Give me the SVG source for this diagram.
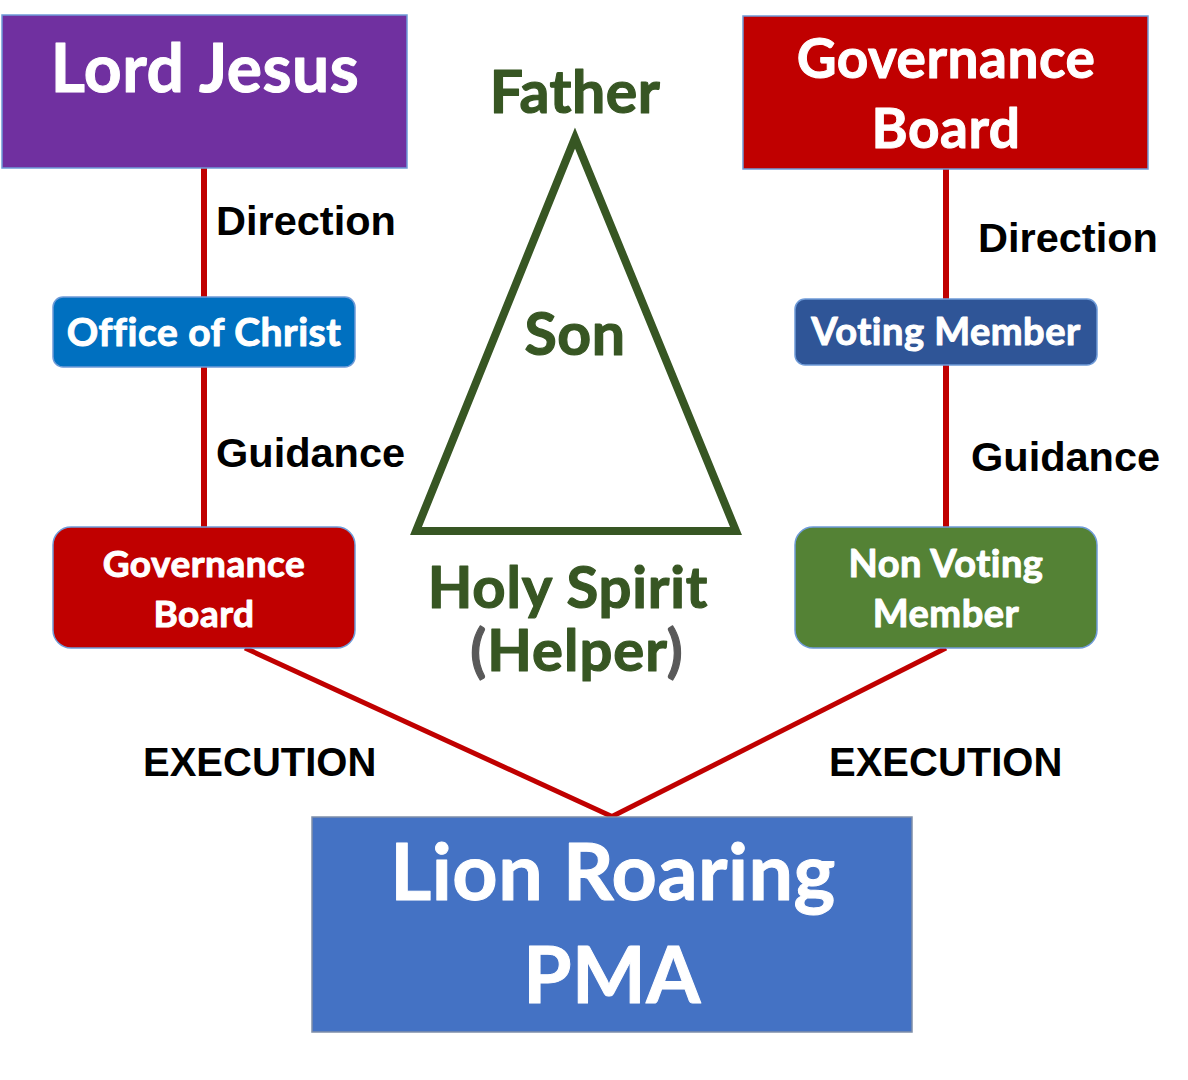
<svg xmlns="http://www.w3.org/2000/svg" width="1188" height="1080" viewBox="0 0 1188 1080">
<style>
.c{font-family:Lato,"Open Sans","Liberation Sans",sans-serif;font-weight:bold;text-anchor:middle;stroke-linejoin:round;font-variant-ligatures:none;font-feature-settings:"liga" 0}
.w{fill:#ffffff;stroke:#ffffff;stroke-width:1}
.g{fill:#375623;stroke:#375623;stroke-width:1.2}
.p{fill:#595959;stroke:#595959}
.lbl{font-family:"Liberation Sans",Arial,sans-serif;font-weight:bold;font-size:41.5px;fill:#000000}
.ex{font-size:40px}
.conn{stroke:#C00000;fill:none}
</style>
<rect width="1188" height="1080" fill="#ffffff"/>
<g id="connectors">
<line class="conn" x1="204" y1="168" x2="204" y2="528" stroke-width="6"/>
<line class="conn" x1="946" y1="169" x2="946" y2="528" stroke-width="6"/>
<line class="conn" x1="245" y1="648" x2="613" y2="817" stroke-width="5"/>
<line class="conn" x1="946" y1="648" x2="611" y2="817" stroke-width="5"/>
</g>
<g id="lord-jesus">
<rect x="2" y="15" width="405" height="153" fill="#7030A0" stroke="#6F9BD8" stroke-width="1.5"/>
<text class="c w" x="205" y="92" font-size="66" letter-spacing="0.5">Lord Jesus</text>
</g>
<g id="governance-board-top">
<rect x="743" y="16" width="405" height="153" fill="#C00000" stroke="#6F9BD8" stroke-width="1.5"/>
<text class="c w" x="946" y="78" font-size="55" letter-spacing="0.5">Governance</text>
<text class="c w" x="946" y="148" font-size="55" letter-spacing="0.5">Board</text>
</g>
<g id="office-of-christ">
<rect x="53" y="297" width="302" height="70" rx="10" fill="#0070C0" stroke="#6F9BD8" stroke-width="1.5"/>
<text class="c w" x="204" y="346" font-size="39" letter-spacing="0.5">Office of Christ</text>
</g>
<g id="governance-board-left">
<rect x="53" y="527" width="302" height="121" rx="18" fill="#C00000" stroke="#6F9BD8" stroke-width="1.5"/>
<text class="c w" x="204" y="577" font-size="37" letter-spacing="0.5">Governance</text>
<text class="c w" x="204" y="627" font-size="37" letter-spacing="0.5">Board</text>
</g>
<g id="voting-member">
<rect x="795" y="299" width="302" height="66" rx="10" fill="#2F5597" stroke="#6F9BD8" stroke-width="1.5"/>
<text class="c w" x="946" y="345" font-size="38" letter-spacing="0.5">Voting Member</text>
</g>
<g id="non-voting-member">
<rect x="795" y="527" width="302" height="121" rx="18" fill="#548235" stroke="#6F9BD8" stroke-width="1.5"/>
<text class="c w" x="946" y="577" font-size="38" letter-spacing="0.5">Non Voting</text>
<text class="c w" x="946" y="627" font-size="38" letter-spacing="0.5">Member</text>
</g>
<g id="trinity">
<polygon points="575,138 416,531 736,531" fill="#ffffff" stroke="#375623" stroke-width="8" stroke-linejoin="miter"/>
<text class="c g" x="575" y="113" font-size="59" letter-spacing="0.5">Father</text>
<text class="c g" x="575" y="355" font-size="59" letter-spacing="0.5">Son</text>
<text class="c g" x="568" y="608" font-size="58" letter-spacing="0.8">Holy Spirit</text>
<text class="c g" x="577" y="671" font-size="58" letter-spacing="1"><tspan class="p">(</tspan>Helper<tspan class="p">)</tspan></text>
</g>
<g id="labels">
<text class="lbl" x="216" y="235">Direction</text>
<text class="lbl" x="216" y="467">Guidance</text>
<text class="lbl" x="978" y="252">Direction</text>
<text class="lbl" x="971" y="471">Guidance</text>
<text class="lbl ex" x="143" y="776">EXECUTION</text>
<text class="lbl ex" x="829" y="776">EXECUTION</text>
</g>
<g id="lion-roaring-pma">
<rect x="312" y="817" width="600" height="215" fill="#4472C4" stroke="#7F8FA9" stroke-width="1.5"/>
<text class="c w" x="613" y="900" font-size="79" letter-spacing="0.5">Lion Roaring</text>
<text class="c w" x="612" y="1003" font-size="78" letter-spacing="0.5">PMA</text>
</g>
</svg>
